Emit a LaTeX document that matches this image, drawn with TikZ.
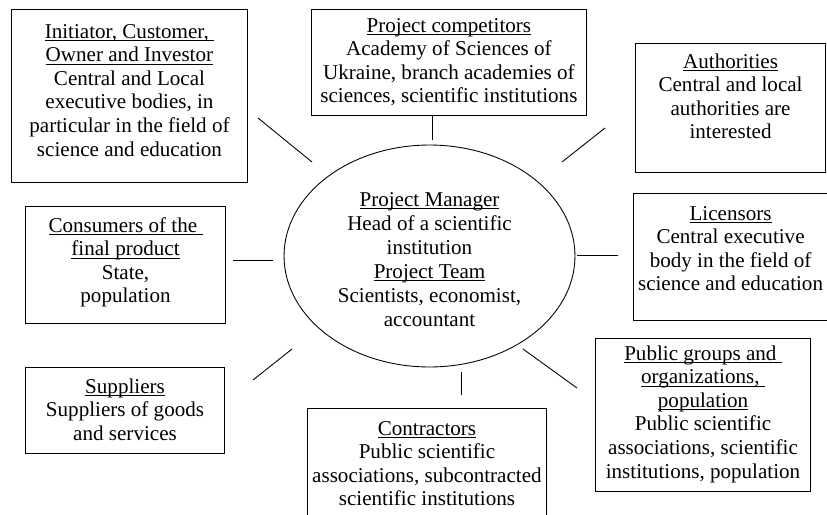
\documentclass[tikz,border=0pt]{standalone}
\usepackage{fontspec}
\setmainfont{Liberation Serif}
\usetikzlibrary{shapes.geometric}
\newlength\px
\setlength\px{0.5669pt}
% width, height, first baseline (all in px), lines
\newcommand{\rolebox}[4]{\parbox[c][#2\px][t]{#1\px}{\centering\rule{0pt}{#3\px}#4}}
% underline just under the baseline, through the descenders
\newsavebox\rolebx
\newcommand{\roleul}[1]{\leavevmode\sbox\rolebx{#1}\rlap{\rule[-1.5pt]{\wd\rolebx}{0.55pt}}\usebox\rolebx\relax}
\tikzset{
  role/.style={draw, line width=0.5pt, inner sep=0pt, anchor=north west,
    font=\fontsize{12}{13.4}\selectfont},
  core/.style={draw, line width=0.5pt, ellipse, inner sep=0pt, align=center,
    minimum width=5.82cm, minimum height=4.44cm,
    font=\fontsize{12}{13.7}\selectfont},
  link/.style={line width=0.5pt},
}
\begin{document}
\begin{tikzpicture}[x=0.02cm,y=-0.02cm]
\useasboundingbox (0,0) rectangle (827,514);
% centre
\node[core] (manager) at (429.5,256) {\rule{0pt}{12pt}\roleul{Project Manager}\\Head of a scientific\\institution\\\roleul{Project Team}\\Scientists, economist,\\accountant};
% stakeholders
\node[role] (initiator) at (11,9) {\rolebox{237}{174}{29}{\roleul{Initiator, Customer, }\\\roleul{Owner and Investor}\\Central and Local\\executive bodies, in\\particular in the field of\\science and education}};
\node[role] (competitors) at (311,9) {\rolebox{276}{106}{23}{\roleul{Project competitors}\\Academy of Sciences of\\Ukraine, branch academies of\\sciences, scientific institutions}};
\node[role] (authorities) at (635,43) {\rolebox{191}{130}{25}{\roleul{Authorities}\\Central and local\\authorities are\\interested}};
\node[role] (consumers) at (25,206) {\rolebox{201}{117}{26}{\roleul{Consumers of the }\\\roleul{final product}\\State,\\population}};
\node[role] (licensors) at (633,193) {\rolebox{195}{127}{27}{\roleul{Licensors}\\Central executive\\body in the field of\\science and education}};
\node[role] (suppliers) at (25,367) {\rolebox{200}{86}{26}{\roleul{Suppliers}\\Suppliers of goods\\and services}};
\node[role] (contractors) at (307,408) {\rolebox{240}{115}{27}{\roleul{Contractors}\\Public scientific\\associations, subcontracted\\scientific institutions}};
\node[role] (public) at (595,338) {\rolebox{216}{154}{22}{\roleul{Public groups and }\\\roleul{organizations, }\\\roleul{population}\\Public scientific\\associations, scientific\\institutions, population}};
% short links (free ends)
\coordinate (initiatorA) at (258,118);   \coordinate (initiatorB) at (312,162);
\coordinate (competitorsA) at (432,115); \coordinate (competitorsB) at (432,140);
\coordinate (authoritiesA) at (605,128); \coordinate (authoritiesB) at (562,162);
\coordinate (consumersA) at (233,260);   \coordinate (consumersB) at (273,260);
\coordinate (licensorsA) at (618,255);   \coordinate (licensorsB) at (577,255);
\coordinate (suppliersA) at (253,380);   \coordinate (suppliersB) at (292,349);
\coordinate (contractorsA) at (461,395); \coordinate (contractorsB) at (461,372);
\coordinate (publicA) at (577,388);      \coordinate (publicB) at (523,349);
\foreach \who in {initiator,competitors,authorities,consumers,licensors,suppliers,contractors,public}
  \draw[link] (\who A) -- (\who B);
\end{tikzpicture}
\end{document}
